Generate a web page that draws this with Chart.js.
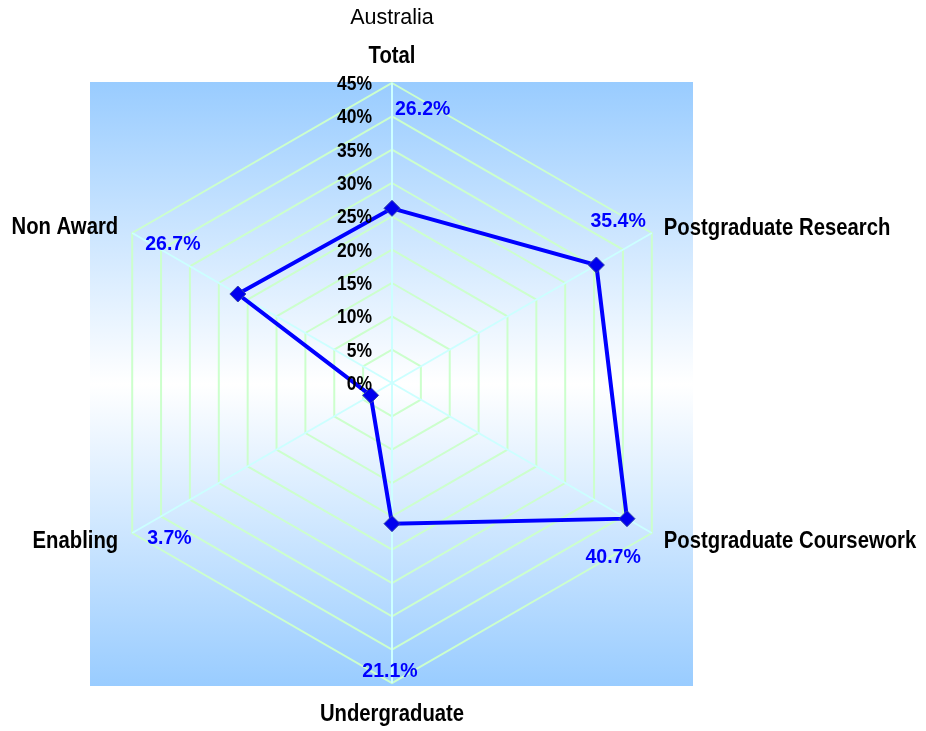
<!DOCTYPE html>
<html>
<head>
<meta charset="utf-8">
<script src="https://cdn.jsdelivr.net/npm/chart.js@4/dist/chart.umd.min.js"></script>
<style>
html,body{margin:0;padding:0;background:#ffffff;}
canvas{display:block;}
</style>
</head>
<body>
<canvas id="c" width="926" height="731"></canvas>
<script>
const chartTitle = "Australia";
const categories = ["Total", "Postgraduate Research", "Postgraduate Coursework", "Undergraduate", "Enabling", "Non Award"];
const seriesValues = [26.2, 35.4, 40.7, 21.1, 3.7, 26.7];
const valueLabels = ["26.2%", "35.4%", "40.7%", "21.1%", "3.7%", "26.7%"];
const tickLabels = ["0%", "5%", "10%", "15%", "20%", "25%", "30%", "35%", "40%", "45%"];

const SANS = '"Liberation Sans", Arial, sans-serif';

// label placement styles relative to each outer vertex: [dx, dy, align]
const pointLabelStyle = [[0, -20, 'center'], [12, 2, 'left'], [12, 15, 'left'], [0, 38, 'center'], [-14, 15, 'right'], [-14, 1, 'right']];
const valueLabelStyle = [[3, 32, 'left'], [-6, -6, 'right'], [-11, 30, 'right'], [-2, -6, 'center'], [15, 11, 'left'], [13, 17, 'left']];

function drawCondensed(ctx, text, x, y, align, sx) {
  ctx.save();
  ctx.translate(x, y);
  ctx.scale(sx, 1);
  ctx.textAlign = align;
  ctx.fillText(text, 0, 0);
  ctx.restore();
}

const decor = {
  id: 'decor',
  beforeDraw(chart) {
    const {ctx, chartArea: a} = chart;
    ctx.save();
    ctx.fillStyle = '#ffffff';
    ctx.fillRect(0, 0, chart.width, chart.height);
    const g = ctx.createLinearGradient(0, a.top - 1, 0, a.bottom + 3);
    g.addColorStop(0, '#99ccff');
    g.addColorStop(0.5, '#ffffff');
    g.addColorStop(1, '#99ccff');
    ctx.fillStyle = g;
    ctx.fillRect(a.left - 2, a.top - 1, a.right - a.left + 3, a.bottom - a.top + 4);
    ctx.restore();
  },
  afterDatasetsDraw(chart) {
    const {ctx} = chart;
    const r = chart.scales.r;
    ctx.save();
    ctx.textBaseline = 'alphabetic';
    // tick labels
    ctx.fillStyle = '#000000';
    ctx.font = 'bold 20px ' + SANS;
    tickLabels.forEach(t => {
      const v = parseFloat(t);
      const y = r.yCenter - r.getDistanceFromCenterForValue(v);
      drawCondensed(ctx, t, r.xCenter - 20, y + 7, 'right', 0.875);
    });
    // point labels
    ctx.font = 'bold 24px ' + SANS;
    categories.forEach((c, i) => {
      const p = r.getPointPosition(i, r.drawingArea);
      const s = pointLabelStyle[i];
      drawCondensed(ctx, c, p.x + s[0], p.y + s[1], s[2], 0.845);
    });
    // value labels
    ctx.fillStyle = '#0000ff';
    ctx.font = 'bold 21px ' + SANS;
    valueLabels.forEach((t, i) => {
      const p = r.getPointPosition(i, r.drawingArea);
      const s = valueLabelStyle[i];
      drawCondensed(ctx, t, p.x + s[0], p.y + s[1], s[2], 0.93);
    });
    ctx.restore();
  }
};

new Chart(document.getElementById('c'), {
  type: 'radar',
  data: {
    labels: categories,
    datasets: [{
      data: seriesValues,
      borderColor: '#0000ff',
      borderWidth: 4,
      backgroundColor: '#0000ee',
      fill: false,
      pointStyle: 'rectRot',
      pointRadius: 8,
      pointBackgroundColor: '#0000ee',
      pointBorderColor: '#3344aa',
      pointBorderWidth: 1,
      tension: 0
    }]
  },
  options: {
    responsive: false,
    animation: false,
    devicePixelRatio: 1,
    layout: {padding: {left: 92, right: 234, top: 0, bottom: 48}},
    plugins: {
      legend: {display: false},
      tooltip: {enabled: false},
      title: {
        display: true,
        text: chartTitle,
        color: '#000000',
        font: {family: SANS, size: 21.5, weight: 'normal', lineHeight: 1},
        padding: {top: 7, bottom: 54.5}
      }
    },
    scales: {
      r: {
        min: 0,
        max: 45,
        ticks: {display: false, stepSize: 5},
        grid: {color: '#ccffcc', lineWidth: 2},
        angleLines: {color: '#ccffff', lineWidth: 2},
        pointLabels: {display: false}
      }
    }
  },
  plugins: [decor]
});
</script>
</body>
</html>
